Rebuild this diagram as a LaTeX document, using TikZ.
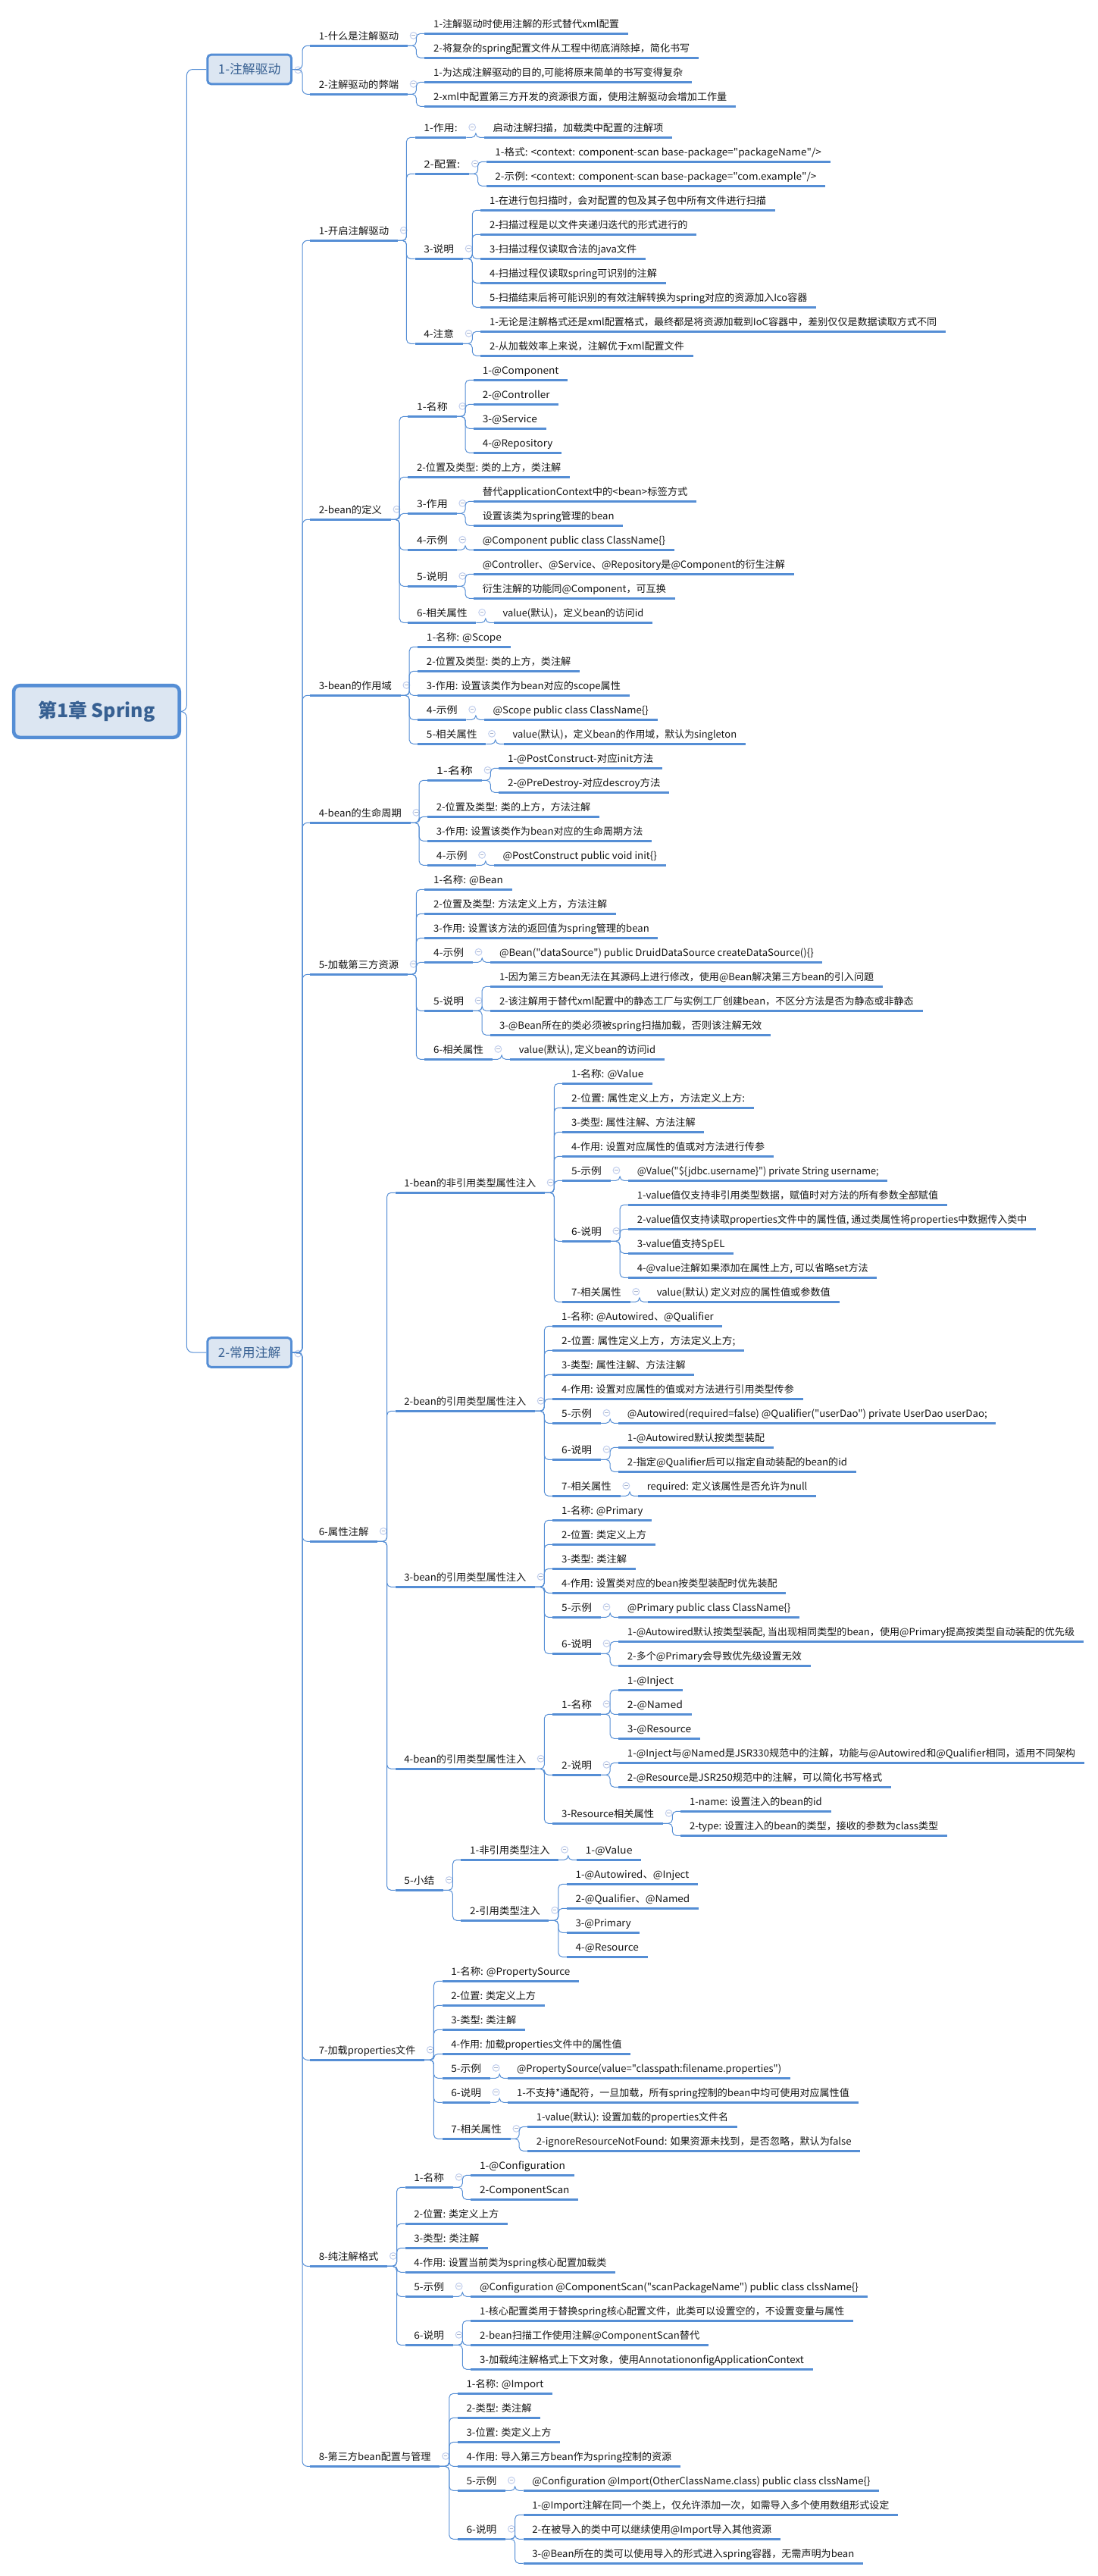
\documentclass[tikz,border=0pt]{standalone}
\usepackage{fontspec}
\usepackage{graphicx}
\newfontfamily\mainf{Noto Sans CJK SC}
\definecolor{lnk}{HTML}{558ED5}
\definecolor{boxfill}{HTML}{DCE6F2}
\definecolor{boxtxt}{HTML}{376092}
\definecolor{togc}{HTML}{C3D0EE}
\newsavebox{\itembox}
\newcommand{\itemfont}{\mainf\fontsize{9.75pt}{11pt}\selectfont}
\tikzset{
  item/.style={anchor=south west,inner sep=0pt,text height=9pt,text depth=6pt,text=black!92},
  ul/.style={draw=lnk,line width=2.25pt},
  conn/.style={draw=lnk,line width=0.75pt,rounded corners=4pt},
  toggle/.style={circle,draw=togc,fill=white,line width=0.8pt,minimum size=6.6pt,inner sep=0pt,
    path picture={\draw[togc!85!black,line width=0.6pt] ([xshift=-1.7pt]path picture bounding box.center) -- ([xshift=1.7pt]path picture bounding box.center);}},
  rootbox/.style={draw=lnk,fill=boxfill,line width=3.4pt,rounded corners=6pt,minimum width=164pt,minimum height=51.4pt,inner sep=0pt,text=boxtxt,font=\mainf\fontsize{18.7pt}{22pt}\selectfont\bfseries},
  secbox/.style={draw=lnk,fill=boxfill,line width=2.2pt,rounded corners=3.5pt,minimum width=83pt,minimum height=29pt,inner sep=0pt,text=boxtxt,font=\mainf\fontsize{12.6pt}{15pt}\selectfont}
}
\newcommand{\nd}[5]{%
  \pgfmathsetmacro{\itemw}{(#3-#2)*0.6925}%
  \node[item,minimum width=\itemw pt] (#1) at (#2,#4) {%
    \sbox{\itembox}{\itemfont #5}%
    \pgfmathsetmacro{\itemr}{(\itemw-17.2)/\wd\itembox}%
    \makebox[\itemw pt][l]{\hspace{8.6pt}\scalebox{\itemr}[1]{\usebox{\itembox}}}};
  \draw[ul] (#1.south west) -- (#1.south east);
}
\newcommand{\nt}[5]{%
  \nd{#1}{#2}{#3}{#4}{#5}
  \node[toggle] (#1-t) at ([xshift=5.8pt,yshift=10.1pt]#1.south east) {};
}
\newcommand{\lk}[2]{%
  \foreach \kid in {#2} {\draw[conn] (#1.south east) -| ([xshift=-8.3pt]\kid.south west) -- (\kid.south west);}
}
\begin{document}
\begin{tikzpicture}[x=0.6925pt,y=-0.75pt]
\useasboundingbox (0,0) rectangle (1569.3,3398);

% root and sections
\node[rootbox] (r) at (138,938.5) {第1章 Spring};
\node[secbox] (s1) at (356.5,91.5) {1-注解驱动};
\node[secbox] (s2) at (356.5,1784) {2-常用注解};
\node[toggle] (s1-t) at (426,92.3) {};
\node[toggle] (s2-t) at (426,1785.5) {};

% section 1
\nt{a1}{443}{582}{60.3}{1-什么是注解驱动}
\nd{a1a}{607}{897}{44.3}{1-注解驱动时使用注解的形式替代xml配置}
\nd{a1b}{607}{998}{76.3}{2-将复杂的spring配置文件从工程中彻底消除掉，简化书写}
\nt{a2}{443}{582}{124.3}{2-注解驱动的弊端}
\nd{a2a}{607}{988}{108.3}{1-为达成注解驱动的目的,可能将原来简单的书写变得复杂}
\nd{a2b}{607}{1051}{140.3}{2-xml中配置第三方开发的资源很方面，使用注解驱动会增加工作量}

% 1-开启注解驱动
\nt{b1}{443}{568}{317.3}{1-开启注解驱动}
\nt{b1a}{593}{666}{181.3}{1-作用:}
\nd{b1a1}{692}{960}{181.3}{启动注解扫描，加载类中配置的注解项}
\nt{b1b}{593}{670}{229.3}{2-配置:}
\nd{b1b1}{695}{1186}{213.3}{1-格式: <context: component-scan base-package="packageName"/>}
\nd{b1b2}{695}{1179}{245.3}{2-示例: <context: component-scan base-package="com.example"/>}
\nt{b1c}{593}{661}{341.3}{3-说明}
\nd{b1c1}{687}{1107}{277.3}{1-在进行包扫描时，会对配置的包及其子包中所有文件进行扫描}
\nd{b1c2}{687}{995}{309.3}{2-扫描过程是以文件夹递归迭代的形式进行的}
\nd{b1c3}{687}{922}{341.3}{3-扫描过程仅读取合法的java文件}
\nd{b1c4}{687}{951}{373.3}{4-扫描过程仅读取spring可识别的注解}
\nd{b1c5}{687}{1166}{405.3}{5-扫描结束后将可能识别的有效注解转换为spring对应的资源加入Ico容器}
\nt{b1d}{593}{661}{453.3}{4-注意}
\nd{b1d1}{687}{1351}{437.3}{1-无论是注解格式还是xml配置格式，最终都是将资源加载到IoC容器中，差别仅仅是数据读取方式不同}
\nd{b1d2}{687}{990}{469.3}{2-从加载效率上来说，注解优于xml配置文件}

% 2-bean的定义
\nt{b2}{443}{558}{685.3}{2-bean的定义}
\nt{b2a}{583}{652}{549.3}{1-名称}
\nd{b2a1}{677}{811}{501.3}{1-@Component}
\nd{b2a2}{677}{798}{533.3}{2-@Controller}
\nd{b2a3}{677}{780}{565.3}{3-@Service}
\nd{b2a4}{677}{802}{597.3}{4-@Repository}
\nd{b2b}{583}{814}{629.3}{2-位置及类型: 类的上方，类注解}
\nt{b2c}{583}{652}{677.3}{3-作用}
\nd{b2c1}{677}{995}{661.3}{替代applicationContext中的<bean>标签方式}
\nd{b2c2}{677}{890}{693.3}{设置该类为spring管理的bean}
\nt{b2d}{583}{652}{725.3}{4-示例}
\nd{b2d1}{677}{963}{725.3}{@Component public class ClassName\{\}}
\nt{b2e}{583}{652}{773.3}{5-说明}
\nd{b2e1}{677}{1134}{757.3}{@Controller、@Service、@Repository是@Component的衍生注解}
\nd{b2e2}{677}{964}{789.3}{衍生注解的功能同@Component，可互换}
\nt{b2f}{583}{680}{821.3}{6-相关属性}
\nd{b2f1}{706}{932}{821.3}{value(默认)，定义bean的访问id}

% 3-bean的作用域
\nt{b3}{443}{572}{917.3}{3-bean的作用域}
\nd{b3a}{597}{729}{853.3}{1-名称: @Scope}
\nd{b3b}{597}{828}{885.3}{2-位置及类型: 类的上方，类注解}
\nd{b3c}{597}{899}{917.3}{3-作用: 设置该类作为bean对应的scope属性}
\nt{b3d}{597}{666}{949.3}{4-示例}
\nd{b3d1}{692}{939}{949.3}{@Scope public class ClassName\{\}}
\nt{b3e}{597}{694}{981.3}{5-相关属性}
\nd{b3e1}{720}{1065}{981.3}{value(默认)，定义bean的作用域，默认为singleton}

% 4-bean的生命周期
\nt{b4}{443}{586}{1085.3}{4-bean的生命周期}
\nt{b4a}{611}{688}{1029.3}{1-名称}
\nd{b4a1}{713}{946}{1013.3}{1-@PostConstruct-对应init方法}
\nd{b4a2}{713}{956}{1045.3}{2-@PreDestroy-对应descroy方法}
\nd{b4b}{611}{856}{1077.3}{2-位置及类型: 类的上方，方法注解}
\nd{b4c}{611}{931}{1109.3}{3-作用: 设置该类作为bean对应的生命周期方法}
\nt{b4d}{611}{680}{1141.3}{4-示例}
\nd{b4d1}{706}{951}{1141.3}{@PostConstruct public void init\{\}}

% 5-加载第三方资源
\nt{b5}{443}{582}{1285.3}{5-加载第三方资源}
\nd{b5a}{607}{731}{1173.3}{1-名称: @Bean}
\nd{b5b}{607}{880}{1205.3}{2-位置及类型: 方法定义上方，方法注解}
\nd{b5c}{607}{940}{1237.3}{3-作用: 设置该方法的返回值为spring管理的bean}
\nt{b5d}{607}{675}{1269.3}{4-示例}
\nd{b5d1}{701}{1175}{1269.3}{@Bean("dataSource") public DruidDataSource createDataSource()\{\}}
\nt{b5e}{607}{675}{1333.3}{5-说明}
\nd{b5e1}{701}{1261}{1301.3}{1-因为第三方bean无法在其源码上进行修改，使用@Bean解决第三方bean的引入问题}
\nd{b5e2}{701}{1318}{1333.3}{2-该注解用于替代xml配置中的静态工厂与实例工厂创建bean，不区分方法是否为静态或非静态}
\nd{b5e3}{701}{1101}{1365.3}{3-@Bean所在的类必须被spring扫描加载，否则该注解无效}
\nt{b5f}{607}{703}{1397.3}{6-相关属性}
\nd{b5f1}{729}{949}{1397.3}{value(默认), 定义bean的访问id}

% 6-属性注解
\nt{b6}{443}{539}{2033.3}{6-属性注解}
\nt{c1}{565}{778}{1573.3}{1-bean的非引用类型属性注入}
\nd{c1a}{804}{932}{1429.3}{1-名称: @Value}
\nd{c1b}{804}{1077}{1461.3}{2-位置: 属性定义上方，方法定义上方:}
\nd{c1c}{804}{1006}{1493.3}{3-类型: 属性注解、方法注解}
\nd{c1d}{804}{1105}{1525.3}{4-作用: 设置对应属性的值或对方法进行传参}
\nt{c1e}{804}{872}{1557.3}{5-示例}
\nd{c1e1}{898}{1268}{1557.3}{@Value("\$\{jdbc.username\}") private String username;}
\nt{c1f}{804}{872}{1637.3}{6-说明}
\nd{c1f1}{898}{1353}{1589.3}{1-value值仅支持非引用类型数据，赋值时对方法的所有参数全部赋值}
\nd{c1f2}{898}{1480}{1621.3}{2-value值仅支持读取properties文件中的属性值, 通过类属性将properties中数据传入类中}
\nd{c1f3}{898}{1048}{1653.3}{3-value值支持SpEL}
\nd{c1f4}{898}{1253}{1685.3}{4-@value注解如果添加在属性上方, 可以省略set方法}
\nt{c1g}{804}{900}{1717.3}{7-相关属性}
\nd{c1g1}{926}{1199}{1717.3}{value(默认) 定义对应的属性值或参数值}

\nt{c2}{565}{764}{1861.3}{2-bean的引用类型属性注入}
\nd{c2a}{790}{1032}{1749.3}{1-名称: @Autowired、@Qualifier}
\nd{c2b}{790}{1063}{1781.3}{2-位置: 属性定义上方，方法定义上方;}
\nd{c2c}{790}{992}{1813.3}{3-类型: 属性注解、方法注解}
\nd{c2d}{790}{1147}{1845.3}{4-作用: 设置对应属性的值或对方法进行引用类型传参}
\nt{c2e}{790}{858}{1877.3}{5-示例}
\nd{c2e1}{884}{1423}{1877.3}{@Autowired(required=false) @Qualifier("userDao") private UserDao userDao;}
\nt{c2f}{790}{858}{1925.3}{6-说明}
\nd{c2f1}{884}{1105}{1909.3}{1-@Autowired默认按类型装配}
\nd{c2f2}{884}{1223}{1941.3}{2-指定@Qualifier后可以指定自动装配的bean的id}
\nt{c2g}{790}{886}{1973.3}{7-相关属性}
\nd{c2g1}{912}{1166}{1973.3}{required: 定义该属性是否允许为null}

\nt{c3}{565}{764}{2093.3}{3-bean的引用类型属性注入}
\nd{c3a}{790}{931}{2005.3}{1-名称: @Primary}
\nd{c3b}{790}{936}{2037.3}{2-位置: 类定义上方}
\nd{c3c}{790}{908}{2069.3}{3-类型: 类注解}
\nd{c3d}{790}{1123}{2101.3}{4-作用: 设置类对应的bean按类型装配时优先装配}
\nt{c3e}{790}{858}{2133.3}{5-示例}
\nd{c3e1}{884}{1142}{2133.3}{@Primary public class ClassName\{\}}
\nt{c3f}{790}{858}{2181.3}{6-说明}
\nd{c3f1}{884}{1548}{2165.3}{1-@Autowired默认按类型装配, 当出现相同类型的bean，使用@Primary提高按类型自动装配的优先级}
\nd{c3f2}{884}{1158}{2197.3}{2-多个@Primary会导致优先级设置无效}

\nt{c4}{565}{764}{2333.3}{4-bean的引用类型属性注入}
\nt{c4a}{790}{858}{2261.3}{1-名称}
\nd{c4a1}{884}{975}{2229.3}{1-@Inject}
\nd{c4a2}{884}{988}{2261.3}{2-@Named}
\nd{c4a3}{884}{1000}{2293.3}{3-@Resource}
\nt{c4b}{790}{858}{2341.3}{2-说明}
\nd{c4b1}{884}{1549}{2325.3}{1-@Inject与@Named是JSR330规范中的注解，功能与@Autowired和@Qualifier相同，适用不同架构}
\nd{c4b2}{884}{1273}{2357.3}{2-@Resource是JSR250规范中的注解，可以简化书写格式}
\nt{c4c}{790}{947}{2405.3}{3-Resource相关属性}
\nd{c4c1}{973}{1187}{2389.3}{1-name: 设置注入的bean的id}
\nd{c4c2}{973}{1353}{2421.3}{2-type: 设置注入的bean的类型，接收的参数为class类型}

\nt{c5}{565}{633}{2493.3}{5-小结}
\nt{c5a}{659}{798}{2453.3}{1-非引用类型注入}
\nd{c5a1}{824}{916}{2453.3}{1-@Value}
\nt{c5b}{659}{784}{2533.3}{2-引用类型注入}
\nd{c5b1}{810}{997}{2485.3}{1-@Autowired、@Inject}
\nd{c5b2}{810}{998}{2517.3}{2-@Qualifier、@Named}
\nd{c5b3}{810}{914}{2549.3}{3-@Primary}
\nd{c5b4}{810}{925}{2581.3}{4-@Resource}

% 7-加载properties文件
\nt{b7}{443}{606}{2717.3}{7-加载properties文件}
\nd{b7a}{632}{827}{2613.3}{1-名称: @PropertySource}
\nd{b7b}{632}{778}{2645.3}{2-位置: 类定义上方}
\nd{b7c}{632}{750}{2677.3}{3-类型: 类注解}
\nd{b7d}{632}{901}{2709.3}{4-作用: 加载properties文件中的属性值}
\nt{b7e}{632}{700}{2741.3}{5-示例}
\nd{b7e1}{726}{1129}{2741.3}{@PropertySource(value="classpath:filename.properties")}
\nt{b7f}{632}{700}{2773.3}{6-说明}
\nd{b7f1}{726}{1226}{2773.3}{1-不支持*通配符，一旦加载，所有spring控制的bean中均可使用对应属性值}
\nt{b7g}{632}{729}{2821.3}{7-相关属性}
\nd{b7g1}{754}{1053}{2805.3}{1-value(默认): 设置加载的properties文件名}
\nd{b7g2}{754}{1229}{2837.3}{2-ignoreResourceNotFound: 如果资源未找到，是否忽略，默认为false}

% 8-纯注解格式
\nt{b8}{443}{553}{2989.3}{8-纯注解格式}
\nt{b8a}{579}{647}{2885.3}{1-名称}
\nd{b8a1}{673}{820}{2869.3}{1-@Configuration}
\nd{b8a2}{673}{826}{2901.3}{2-ComponentScan}
\nd{b8b}{579}{725}{2933.3}{2-位置: 类定义上方}
\nd{b8c}{579}{697}{2965.3}{3-类型: 类注解}
\nd{b8d}{579}{879}{2997.3}{4-作用: 设置当前类为spring核心配置加载类}
\nt{b8e}{579}{647}{3029.3}{5-示例}
\nd{b8e1}{673}{1239}{3029.3}{@Configuration @ComponentScan("scanPackageName") public class clssName\{\}}
\nt{b8f}{579}{647}{3093.3}{6-说明}
\nd{b8f1}{673}{1219}{3061.3}{1-核心配置类用于替换spring核心配置文件，此类可以设置空的，不设置变量与属性}
\nd{b8f2}{673}{1012}{3093.3}{2-bean扫描工作使用注解@ComponentScan替代}
\nd{b8f3}{673}{1161}{3125.3}{3-加载纯注解格式上下文对象，使用AnnotationonfigApplicationContext}

% 8-第三方bean配置与管理
\nt{b9}{443}{628}{3253.3}{8-第三方bean配置与管理}
\nd{b9a}{654}{789}{3157.3}{1-名称: @Import}
\nd{b9b}{654}{772}{3189.3}{2-类型: 类注解}
\nd{b9c}{654}{800}{3221.3}{3-位置: 类定义上方}
\nd{b9d}{654}{972}{3253.3}{4-作用: 导入第三方bean作为spring控制的资源}
\nt{b9e}{654}{722}{3285.3}{5-示例}
\nd{b9e1}{748}{1256}{3285.3}{@Configuration @Import(OtherClassName.class) public class clssName\{\}}
\nt{b9f}{654}{722}{3349.3}{6-说明}
\nd{b9f1}{748}{1283}{3317.3}{1-@Import注解在同一个类上，仅允许添加一次，如需导入多个使用数组形式设定}
\nd{b9f2}{748}{1115}{3349.3}{2-在被导入的类中可以继续使用@Import导入其他资源}
\nd{b9f3}{748}{1233}{3381.3}{3-@Bean所在的类可以使用导入的形式进入spring容器，无需声明为bean}

% connectors
\foreach \sec in {s1,s2} {\draw[conn,rounded corners=6pt] (r.east) -| ([xshift=-19.5pt]\sec.west) -- (\sec.west);}
\foreach \kid in {a1,a2} {\draw[conn,rounded corners=5pt] (s1.east) -| ([xshift=-7.5pt]\kid.south west) -- (\kid.south west);}
\foreach \kid in {b1,b2,b3,b4,b5,b6,b7,b8,b9} {\draw[conn,rounded corners=5pt] (s2.east) -| ([xshift=-7.5pt]\kid.south west) -- (\kid.south west);}
\lk{a1}{a1a,a1b}
\lk{a2}{a2a,a2b}
\lk{b1}{b1a,b1b,b1c,b1d}
\lk{b1a}{b1a1}
\lk{b1b}{b1b1,b1b2}
\lk{b1c}{b1c1,b1c2,b1c3,b1c4,b1c5}
\lk{b1d}{b1d1,b1d2}
\lk{b2}{b2a,b2b,b2c,b2d,b2e,b2f}
\lk{b2a}{b2a1,b2a2,b2a3,b2a4}
\lk{b2c}{b2c1,b2c2}
\lk{b2d}{b2d1}
\lk{b2e}{b2e1,b2e2}
\lk{b2f}{b2f1}
\lk{b3}{b3a,b3b,b3c,b3d,b3e}
\lk{b3d}{b3d1}
\lk{b3e}{b3e1}
\lk{b4}{b4a,b4b,b4c,b4d}
\lk{b4a}{b4a1,b4a2}
\lk{b4d}{b4d1}
\lk{b5}{b5a,b5b,b5c,b5d,b5e,b5f}
\lk{b5d}{b5d1}
\lk{b5e}{b5e1,b5e2,b5e3}
\lk{b5f}{b5f1}
\lk{b6}{c1,c2,c3,c4,c5}
\lk{c1}{c1a,c1b,c1c,c1d,c1e,c1f,c1g}
\lk{c1e}{c1e1}
\lk{c1f}{c1f1,c1f2,c1f3,c1f4}
\lk{c1g}{c1g1}
\lk{c2}{c2a,c2b,c2c,c2d,c2e,c2f,c2g}
\lk{c2e}{c2e1}
\lk{c2f}{c2f1,c2f2}
\lk{c2g}{c2g1}
\lk{c3}{c3a,c3b,c3c,c3d,c3e,c3f}
\lk{c3e}{c3e1}
\lk{c3f}{c3f1,c3f2}
\lk{c4}{c4a,c4b,c4c}
\lk{c4a}{c4a1,c4a2,c4a3}
\lk{c4b}{c4b1,c4b2}
\lk{c4c}{c4c1,c4c2}
\lk{c5}{c5a,c5b}
\lk{c5a}{c5a1}
\lk{c5b}{c5b1,c5b2,c5b3,c5b4}
\lk{b7}{b7a,b7b,b7c,b7d,b7e,b7f,b7g}
\lk{b7e}{b7e1}
\lk{b7f}{b7f1}
\lk{b7g}{b7g1,b7g2}
\lk{b8}{b8a,b8b,b8c,b8d,b8e,b8f}
\lk{b8a}{b8a1,b8a2}
\lk{b8e}{b8e1}
\lk{b8f}{b8f1,b8f2,b8f3}
\lk{b9}{b9a,b9b,b9c,b9d,b9e,b9f}
\lk{b9e}{b9e1}
\lk{b9f}{b9f1,b9f2,b9f3}
\end{tikzpicture}
\end{document}
